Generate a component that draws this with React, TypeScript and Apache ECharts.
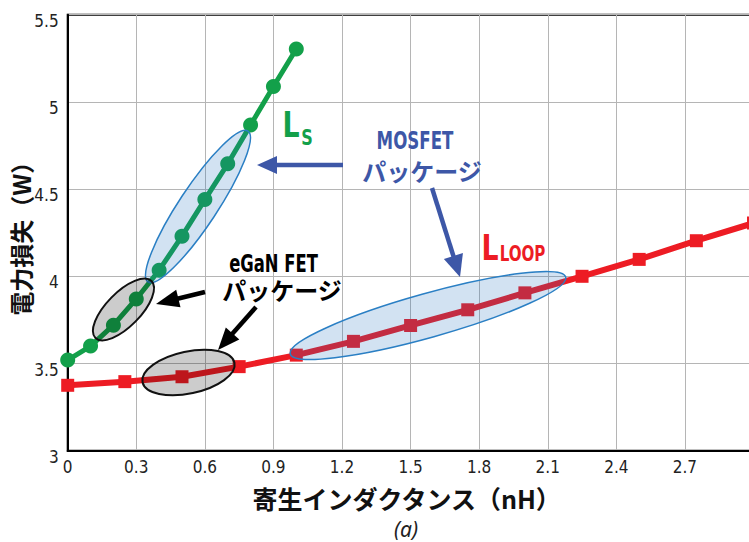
import React, { useEffect, useRef } from "react";
import * as echarts from "echarts";

// ---- data ----
const lsX = [0, 0.1, 0.2, 0.3, 0.4, 0.5, 0.6, 0.7, 0.8, 0.9, 1.0];
const lsY = [3.52, 3.6, 3.72, 3.87, 4.035, 4.23, 4.44, 4.645, 4.868, 5.088, 5.303];
const loopX = [0, 0.25, 0.5, 0.75, 1.0, 1.25, 1.5, 1.75, 2.0, 2.25, 2.5, 2.75, 3.0];
const loopY = [3.375, 3.396, 3.424, 3.482, 3.548, 3.627, 3.718, 3.808, 3.905, 4.0, 4.097, 4.204, 4.305];
const xTickLabels = ["0", "0.3", "0.6", "0.9", "1.2", "1.5", "1.8", "2.1", "2.4", "2.7"];
const yTickLabels = ["3", "3.5", "4", "4.5", "5", "5.5"];
const xTitle = "寄生インダクタンス（nH）";
const yTitle = "電力損失（W）";

const NARROW = '"Liberation Sans Narrow", "DejaVu Sans Condensed", "Liberation Sans", sans-serif';
const CJK = '"Noto Sans CJK JP", "Noto Sans", sans-serif';
const GREEN = "#13a04a";
const RED = "#ed1c24";
const BLUE = "#3d57a7";

function arrow(x1: number, y1: number, x2: number, y2: number, color: string, w: number, hl: number, hw: number) {
  const dx = x2 - x1, dy = y2 - y1;
  const L = Math.hypot(dx, dy);
  const ux = dx / L, uy = dy / L;
  const bx = x2 - ux * hl, by = y2 - uy * hl;
  const px = -uy, py = ux;
  return [
    { type: "line", z: 20, shape: { x1, y1, x2: bx + ux * 2, y2: by + uy * 2 }, style: { stroke: color, lineWidth: w } },
    {
      type: "polygon", z: 20,
      shape: { points: [[x2, y2], [bx + px * hw, by + py * hw], [bx - px * hw, by - py * hw]] },
      style: { fill: color },
    },
  ];
}

function ellipse(cx: number, cy: number, rx: number, ry: number, deg: number, fill: string, stroke: string, lw: number) {
  return {
    type: "ellipse", z: 15, x: cx, y: cy, rotation: (deg * Math.PI) / 180,
    shape: { cx: 0, cy: 0, rx, ry },
    style: { fill, stroke, lineWidth: lw },
  };
}

function txt(text: string, x: number, y: number, size: number, weight: string, family: string, fill: string, sx = 1, italic = false) {
  return {
    type: "text", z: 25, x, y, scaleX: sx,
    style: {
      text, fontSize: size, fontWeight: weight, fontFamily: family, fontStyle: italic ? "italic" : "normal",
      fill, align: "center", verticalAlign: "middle",
    },
  };
}

export default function App() {
  const ref = useRef<HTMLDivElement>(null);
  useEffect(() => {
    document.body.style.margin = "0";
    const chart = echarts.init(ref.current!, null, { renderer: "svg" });
    const blueFill = "rgba(30,110,190,0.2)";
    const blueStroke = "#2a7fc4";
    const greyFill = "rgba(0,0,0,0.2)";
    chart.setOption({
      animation: false,
      backgroundColor: "#fff",
      grid: {
        left: 67.7, right: -4.5, top: 14.7, bottom: 91.3, containLabel: false, outerBoundsMode: "none",
        show: true, borderColor: "#000", borderWidth: 2, backgroundColor: "#fff",
      },
      xAxis: {
        type: "value", min: 0, max: 3, interval: 0.3,
        axisLine: { show: true, onZero: false, lineStyle: { color: "#000", width: 2 } },
        axisTick: { show: false },
        splitLine: { show: true, lineStyle: { color: "#b5b5b5", width: 1 } },
        axisLabel: {
          margin: 8, fontSize: 17, fontFamily: NARROW, color: "#222",
          formatter: (v: number) => { const i = Math.round(v / 0.3); return xTickLabels[i] ?? ""; },
        },
        name: xTitle, nameLocation: "middle", nameGap: 35,
        nameTextStyle: { fontFamily: CJK, fontWeight: "bold", fontSize: 25, color: "#111", padding: [0, 8, 0, 0] },
      },
      yAxis: {
        type: "value", min: 3, max: 5.5, interval: 0.5,
        axisLine: { show: true, onZero: false, lineStyle: { color: "#000", width: 2 } },
        axisTick: { show: false },
        splitLine: { show: true, lineStyle: { color: "#b5b5b5", width: 1 } },
        axisLabel: {
          margin: 9, fontSize: 17, fontFamily: NARROW, color: "#222", verticalAlign: "top", lineHeight: 12,
          formatter: (v: number) => { const i = Math.round((v - 3) / 0.5); return yTickLabels[i] ?? ""; },
        },
        name: yTitle, nameLocation: "middle", nameGap: 35, nameMoveOverlap: false,
        nameTextStyle: { fontFamily: CJK, fontWeight: "bold", fontSize: 24, color: "#111" },
      },
      series: [
        {
          type: "line", name: "LLOOP", data: loopX.map((x, i) => [x, loopY[i]]),
          symbol: "rect", symbolSize: 13, lineStyle: { color: RED, width: 6 }, itemStyle: { color: RED },
        },
        {
          type: "line", name: "LS", data: lsX.map((x, i) => [x, lsY[i]]),
          symbol: "circle", symbolSize: 15, lineStyle: { color: GREEN, width: 5 }, itemStyle: { color: GREEN },
        },
      ],
      graphic: [
        ellipse(198, 206.5, 90.5, 19, 56.5, blueFill, blueStroke, 1.5),
        ellipse(428, 315.5, 143, 22, 15.6, blueFill, blueStroke, 1.5),
        ellipse(123.5, 309.5, 40, 17, 45.5, greyFill, "#111", 2),
        ellipse(188.5, 372.5, 47, 21, 12, greyFill, "#111", 2),
        ...arrow(343, 165, 257, 165, BLUE, 4.5, 20, 9),
        ...arrow(432, 188, 460, 277, BLUE, 4.5, 22, 10),
        ...arrow(205, 292, 156, 304, "#000", 4.5, 23, 9),
        ...arrow(256, 307, 218, 350, "#000", 4.5, 22, 9),
        txt("L", 291, 125, 35, "bold", NARROW, GREEN, 0.85),
        txt("S", 307, 138, 21, "bold", NARROW, GREEN, 0.85),
        txt("MOSFET", 415, 140, 25, "bold", NARROW, BLUE, 0.74),
        txt("パッケージ", 422, 170, 24, "bold", CJK, BLUE),
        txt("L", 490, 248, 35, "bold", NARROW, RED, 0.85),
        txt("LOOP", 522.5, 253.5, 21, "bold", NARROW, RED, 0.8),
        txt("eGaN FET", 273.5, 263.5, 24, "bold", NARROW, "#000", 0.76),
        txt("パッケージ", 282, 289, 24, "bold", CJK, "#000"),
        txt("(a)", 406, 529, 21, "normal", '"Noto Sans", "Open Sans", sans-serif', "#222", 1, true),
      ],
    });
    return () => chart.dispose();
  }, []);
  return <div ref={ref} style={{ position: "fixed", left: 0, top: 0, width: 749, height: 542 }} />;
}
